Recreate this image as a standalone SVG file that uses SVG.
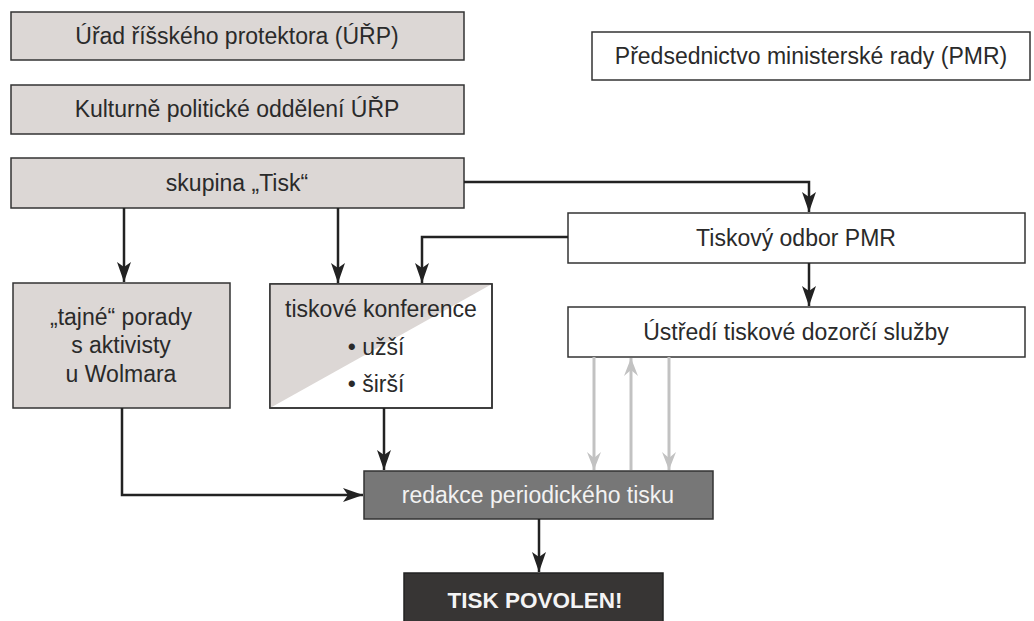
<svg xmlns="http://www.w3.org/2000/svg" width="1034" height="621" viewBox="0 0 1034 621">
<style>
  .box { stroke: #333; stroke-width: 1.5; }
  .lt { fill: #dcd7d5; }
  .wh { fill: #ffffff; }
  .t { font-family: "Liberation Sans", Arial, sans-serif; font-size: 23px; fill: #2a2a2a; text-anchor: middle; }
  .con { fill: none; stroke: #222; stroke-width: 2.5; }
  .gcon { fill: none; stroke: #c2c2c2; stroke-width: 3; }
</style>
<defs>
  <marker id="ah" viewBox="0 0 20 14" refX="20" refY="7" markerWidth="20" markerHeight="14" markerUnits="userSpaceOnUse" orient="auto">
    <path d="M0,0 L20,7 L0,14 L5,7 Z" fill="#222"/>
  </marker>
  <marker id="gah" viewBox="0 0 18 14" refX="18" refY="7" markerWidth="18" markerHeight="14" markerUnits="userSpaceOnUse" orient="auto">
    <path d="M0,0 L18,7 L0,14 L6,7 Z" fill="#c2c2c2"/>
  </marker>
</defs>
<rect width="1034" height="621" fill="#ffffff"/>

<g id="urp">
  <rect class="box lt" x="11" y="12" width="453" height="48"/>
  <text class="t" x="237" y="44">Úřad říšského protektora (ÚŘP)</text>
</g>
<g id="kpo">
  <rect class="box lt" x="11" y="85" width="453" height="49"/>
  <text class="t" x="237" y="117">Kulturně politické oddělení ÚŘP</text>
</g>
<g id="skupina">
  <rect class="box lt" x="11" y="158" width="453" height="50"/>
  <text class="t" x="237" y="191">skupina „Tisk“</text>
</g>
<g id="pmr">
  <rect class="box wh" x="592" y="32" width="438" height="48"/>
  <text class="t" x="811" y="64">Předsednictvo ministerské rady (PMR)</text>
</g>
<g id="tiskovy-odbor">
  <rect class="box wh" x="568" y="213" width="457" height="50"/>
  <text class="t" x="796" y="246">Tiskový odbor PMR</text>
</g>
<g id="ustredi">
  <rect class="box wh" x="568" y="307" width="457" height="50"/>
  <text class="t" x="796" y="340">Ústředí tiskové dozorčí služby</text>
</g>
<g id="tajne">
  <rect class="box lt" x="13" y="283" width="217" height="125"/>
  <text class="t" x="121" y="325">„tajné“ porady</text>
  <text class="t" x="121" y="353">s aktivisty</text>
  <text class="t" x="121" y="382">u Wolmara</text>
</g>
<g id="konference">
  <rect class="box wh" x="270" y="284" width="222" height="124"/>
  <path d="M270,284 H492 L270,408 Z" class="lt"/>
  <rect x="270" y="284" width="222" height="124" fill="none" stroke="#333" stroke-width="1.5"/>
  <text class="t" x="381" y="317">tiskové konference</text>
  <text class="t" x="376" y="355">• užší</text>
  <text class="t" x="376" y="392">• širší</text>
</g>
<g id="redakce">
  <rect class="box" x="364" y="471" width="349" height="48" fill="#777777"/>
  <text class="t" x="538" y="503" style="fill:#f2f2f2">redakce periodického tisku</text>
</g>
<g id="povolen">
  <rect x="404" y="573" width="259" height="52" fill="#373534" stroke="#222" stroke-width="1.5"/>
  <text x="535" y="608" style="font-family:'Liberation Sans',Arial,sans-serif;font-size:22.5px;font-weight:bold;fill:#f4f4f4;text-anchor:middle">TISK POVOLEN!</text>
</g>

<g id="connectors">
  <path class="con" d="M124,208 V282" marker-end="url(#ah)"/>
  <path class="con" d="M338,208 V283" marker-end="url(#ah)"/>
  <path class="con" d="M464,182 H809 V212" marker-end="url(#ah)"/>
  <path class="con" d="M568,237 H422 V283" marker-end="url(#ah)"/>
  <path class="con" d="M809,263 V306" marker-end="url(#ah)"/>
  <path class="con" d="M122,408 V495 H363" marker-end="url(#ah)"/>
  <path class="con" d="M384,408 V470" marker-end="url(#ah)"/>
  <path class="con" d="M539,519 V572" marker-end="url(#ah)"/>
  <path class="gcon" d="M594,357 V470" marker-end="url(#gah)"/>
  <path class="gcon" d="M631,470 V358" marker-end="url(#gah)"/>
  <path class="gcon" d="M669,357 V470" marker-end="url(#gah)"/>
</g>
</svg>
